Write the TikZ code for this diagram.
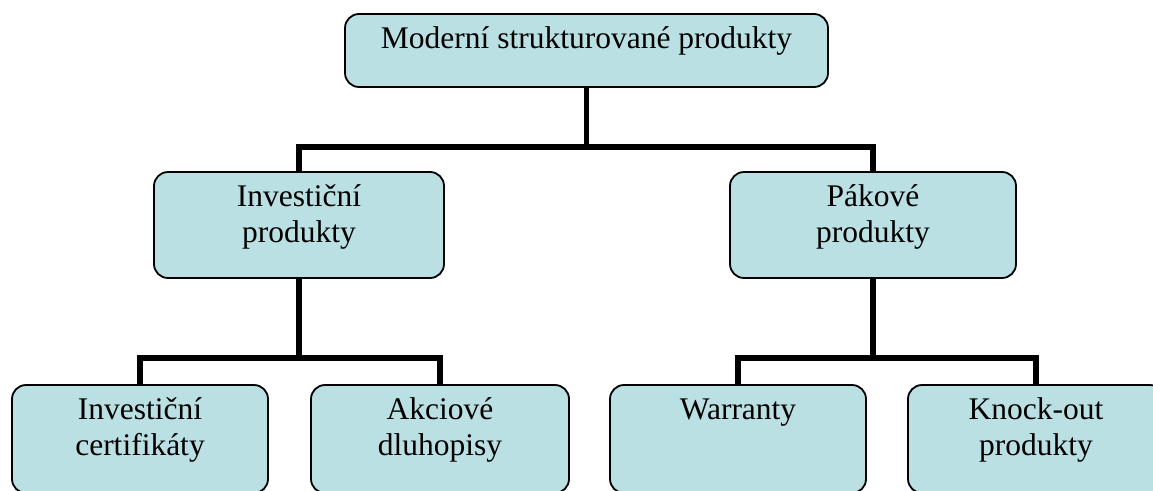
\documentclass[tikz,border=0pt]{standalone}
\usepackage{fontspec}
\setmainfont{Liberation Serif}
\definecolor{boxfill}{RGB}{187,224,227}
\newcommand\firststrut{\rule{0pt}{28pt}}
\begin{document}
\begin{tikzpicture}[x=1pt,y=-1pt,
  box/.style={draw=black, fill=boxfill, line width=1.8pt, rounded corners=14pt,
    rectangle, inner sep=0pt, minimum width=#1},
  box/.default={256pt},
  lbl/.style={anchor=north, inner sep=0pt, align=center, yshift=-7pt,
    font=\fontsize{31.5}{36.5}\selectfont},
  conn/.style={line width=5.5pt, line join=miter, line cap=butt}]
\useasboundingbox (0,0) rectangle (1153,490);
\fill[white] (0,0) rectangle (1153,490);
% boxes
\node[box=483pt, minimum height=73pt] (top) at (586.5,50.5) {};
\node[box=290pt, minimum height=106pt] (mL) at (299,225) {};
\node[box=286pt, minimum height=106pt] (mR) at (873,225) {};
\node[box, minimum height=108pt] (b1) at (140,439) {};
\node[box=258pt, minimum height=108pt] (b2) at (440,439) {};
\node[box, minimum height=108pt] (b3) at (738,439) {};
\node[box, minimum height=108pt] (b4) at (1036,439) {};
% bus coordinates
\coordinate (bus1) at (0,147);
\coordinate (bus2) at (0,358);
% connectors
\draw[conn] (top.south) -- (top.south |- bus1);
\draw[conn] (mL.north) -- (mL.north |- bus1) -- (mR.north |- bus1) -- (mR.north);
\draw[conn] (mL.south) -- (mL.south |- bus2);
\draw[conn] (b1.north) -- (b1.north |- bus2) -- (b2.north |- bus2) -- (b2.north);
\draw[conn] (mR.south) -- (mR.south |- bus2);
\draw[conn] (b3.north) -- (b3.north |- bus2) -- (b4.north |- bus2) -- (b4.north);
% labels
\node[lbl] (ttop) at (top.north) {\firststrut Moderní strukturované produkty};
\node[lbl] (tmL) at (mL.north) {\firststrut Investiční\\produkty};
\node[lbl] (tmR) at (mR.north) {\firststrut Pákové\\produkty};
\node[lbl] (tb1) at (b1.north) {\firststrut Investiční\\certifikáty};
\node[lbl] (tb2) at (b2.north) {\firststrut Akciové\\dluhopisy};
\node[lbl] (tb3) at (b3.north) {\firststrut Warranty};
\node[lbl] (tb4) at (b4.north) {\firststrut Knock-out\\produkty};
\end{tikzpicture}
\end{document}
